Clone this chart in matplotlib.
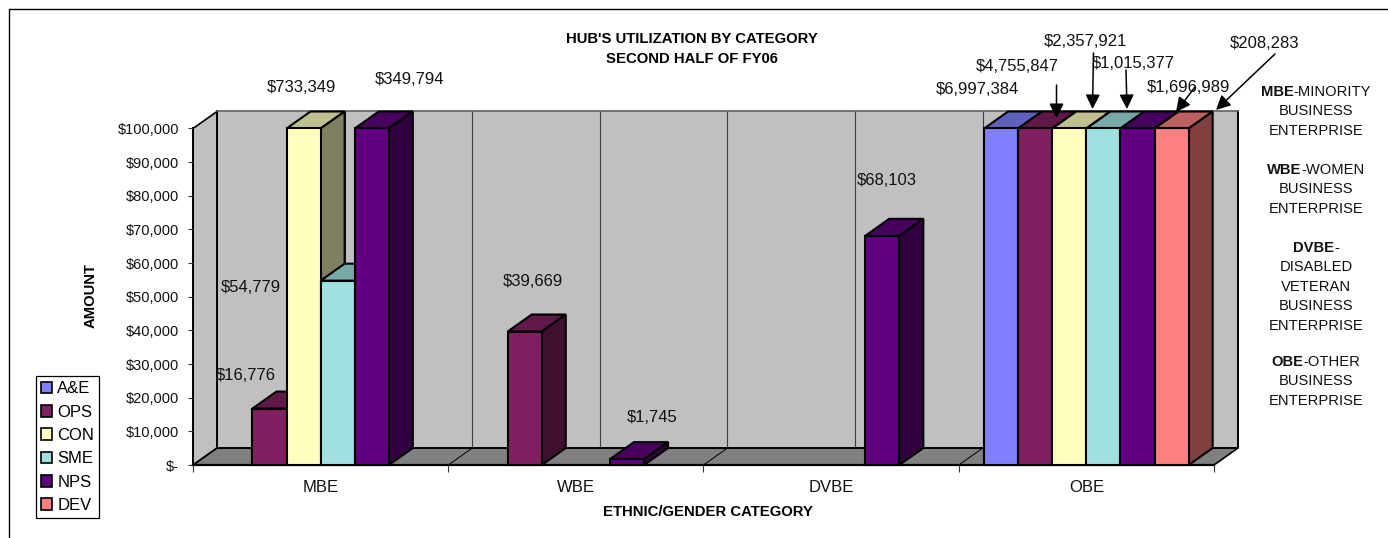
import numpy as np
import matplotlib
matplotlib.use("Agg")
import matplotlib.pyplot as plt
from matplotlib.patches import Polygon, Patch, FancyArrowPatch
from matplotlib.lines import Line2D

plt.rcParams['font.family'] = ['Liberation Sans', 'DejaVu Sans']

W, H = 1388, 538
categories = ['MBE', 'WBE', 'DVBE', 'OBE']
series_names = ['A&E', 'OPS', 'CON', 'SME', 'NPS', 'DEV']
ae = [0, 0, 0, 6997384]
ops = [16776, 39669, 0, 4755847]
con = [733349, 0, 0, 2357921]
sme = [54779, 0, 0, 1015377]
nps = [349794, 1745, 68103, 1696989]
dev = [0, 0, 0, 208283]
series_values = [ae, ops, con, sme, nps, dev]
colors = ['#8080FF', '#802060', '#FFFFC0', '#A0E0E0', '#600080', '#FF8080']
y_ticks = list(range(0, 100001, 10000))
y_tick_labels = ['$-'] + [f'${v:,}' for v in y_ticks[1:]]
y_max = 100000

fig = plt.figure(figsize=(W / 100, H / 100), dpi=100, facecolor='white')


def px(x, y):
    return x / W, 1 - y / H


# Front plane of the 3-D box
L, R, T, B = 193, 1214, 128.5, 465
ax = fig.add_axes([L / W, 1 - B / H, (R - L) / W, (B - T) / H])
ax.set_xlim(0, 4)
ax.set_ylim(0, y_max)
ax.patch.set_visible(False)
for s in ax.spines.values():
    s.set_visible(False)

# Depth of the box in data units
DX = 24 / (R - L) * 4
DY = 17 / (B - T) * y_max
BAR_W = 34.1 / (R - L) * 4


def poly(pts, fc, ec='black', lw=1.4, z=1):
    ax.add_patch(Polygon(pts, closed=True, facecolor=fc, edgecolor=ec, linewidth=lw,
                         zorder=z, clip_on=False, joinstyle='miter'))


# Walls and floor
poly([(0, 0), (DX, DY), (DX, y_max + DY), (0, y_max)], '#C0C0C0', ec='none', lw=0)
poly([(DX, DY), (4 + DX, DY), (4 + DX, y_max + DY), (DX, y_max + DY)], '#C0C0C0', ec='none', lw=0)
poly([(0, 0), (DX, DY), (4 + DX, DY), (4, 0)], '#808080', ec='none', lw=0)
for gx in np.arange(0.5, 4, 0.5):
    ax.plot([gx + DX, gx + DX], [DY, y_max + DY], color='#404040', lw=0.8, zorder=1.1, clip_on=False)
for gx in range(1, 4):
    ax.plot([gx, gx + DX], [0, DY], color='black', lw=0.7, zorder=1.1, clip_on=False)
# Box edges
ax.plot([0, 0], [0, y_max], color='black', lw=1.4, zorder=1.2, clip_on=False)
ax.plot([0, DX], [y_max, y_max + DY], color='black', lw=1.2, zorder=1.2, clip_on=False)
ax.plot([DX, DX], [DY, y_max + DY], color='black', lw=1.4, zorder=1.2, clip_on=False)
ax.plot([0, DX, 4 + DX, 4 + DX], [0, DY, DY, y_max + DY], color='black', lw=1.4, zorder=1.2, clip_on=False)
ax.plot([4, 4 + DX], [0, DY], color='black', lw=1.2, zorder=1.2, clip_on=False)
ax.plot([DX, 4 + DX], [y_max + DY, y_max + DY], color='#606060', lw=1.2, zorder=1.2, clip_on=False)
ax.plot([0, 4], [0, 0], color='black', lw=1.6, zorder=1.2, clip_on=False)

# Bars: left to right so that nearer faces overlap correctly
z = 2.0
for c in range(len(categories)):
    for i, vals in enumerate(series_values):
        v = vals[c]
        if v <= 0:
            continue
        h = min(v, y_max)
        x0 = c + 0.5 + (i - 3) * BAR_W
        rgb = np.array(matplotlib.colors.to_rgb(colors[i]))
        ax.bar(x0, h, width=BAR_W, align='edge', color=colors[i], edgecolor='black',
               linewidth=1.5, zorder=z + 0.1, clip_on=False)
        poly([(x0, h), (x0 + DX, h + DY), (x0 + BAR_W + DX, h + DY), (x0 + BAR_W, h)], rgb * 0.75, lw=1.5, z=z)
        poly([(x0 + BAR_W, 0), (x0 + BAR_W + DX, DY), (x0 + BAR_W + DX, h + DY), (x0 + BAR_W, h)], rgb * 0.5, lw=1.5, z=z)
        z += 0.2

# Axes ticks
ax.set_yticks(y_ticks)
ax.set_yticklabels(y_tick_labels, fontsize=10.5, color='#111111')
ax.tick_params(axis='y', length=3.6, width=0.8, pad=6.4, color='#333333')
ax.set_xticks(range(5))
ax.set_xticklabels([])
ax.tick_params(axis='x', which='major', length=5, width=0.8, color='#333333')
ax.set_xticks(np.arange(len(categories)) + 0.5, minor=True)
ax.set_xticklabels(categories, minor=True, fontsize=12, color='#111111')
ax.tick_params(axis='x', which='minor', length=0, pad=11)

# Titles
fs_title = 10.7
fig.text(*px(692, 39), "HUB'S UTILIZATION BY CATEGORY", ha='center', va='center', fontsize=fs_title, fontweight='bold')
fig.text(*px(692, 59), "SECOND HALF OF FY06", ha='center', va='center', fontsize=fs_title, fontweight='bold')
fig.text(*px(91, 296), "AMOUNT", ha='center', va='center', rotation=90, fontsize=fs_title, fontweight='bold')
fig.text(*px(708, 512), "ETHNIC/GENDER CATEGORY", ha='center', va='center', fontsize=fs_title, fontweight='bold')

# Value labels, (series index, category index) with hand-placed label centres
label_keys = [(1, 0), (2, 0), (3, 0), (4, 0), (1, 1), (4, 1), (4, 2),
              (0, 3), (1, 3), (2, 3), (3, 3), (4, 3), (5, 3)]
label_pos = [(245.5, 376), (301, 88), (250.5, 288), (410, 79), (533, 282), (652, 418), (887, 181),
             (977, 90), (1017, 66), (1085, 42), (1133, 64), (1188, 87), (1265, 43)]
for (si, ci), (lx, ly) in zip(label_keys, label_pos):
    fig.text(*px(lx, ly), f'${series_values[si][ci]:,}', ha='center', va='center',
             fontsize=12, color='#111111', zorder=20)

# Leader arrows
arrows = [((1056.5, 85), (1056.5, 118)), ((1093.5, 53), (1092.5, 109)), ((1126, 70), (1127, 109)),
          ((1195, 87), (1176, 112)), ((1275, 54), (1216, 110))]
for a, b in arrows:
    fig.add_artist(FancyArrowPatch(
        px(*a), px(*b), transform=fig.transFigure, arrowstyle='-|>,head_length=0.58,head_width=0.29',
        mutation_scale=15, color='black', lw=1.1, shrinkA=0, shrinkB=0, zorder=25))

# Side notes (bold abbreviation + regular text, centred together)
notes = [('MBE', '-MINORITY', ['BUSINESS', 'ENTERPRISE'], 92),
         ('WBE', '-WOMEN', ['BUSINESS', 'ENTERPRISE'], 170),
         ('DVBE', '-', ['DISABLED', 'VETERAN', 'BUSINESS', 'ENTERPRISE'], 248),
         ('OBE', '-OTHER', ['BUSINESS', 'ENTERPRISE'], 362)]
renderer = fig.canvas.get_renderer()
cx = 1316
fs_note = 10.6
for bold, rest, others, y0 in notes:
    t1 = fig.text(*px(cx, y0), bold, fontsize=fs_note, fontweight='bold', ha='left', va='center', color='#111111')
    t2 = fig.text(*px(cx, y0), rest, fontsize=fs_note, ha='left', va='center', color='#111111')
    w1 = t1.get_window_extent(renderer).width
    w2 = t2.get_window_extent(renderer).width
    t1.set_position(px(cx - (w1 + w2) / 2, y0))
    t2.set_position(px(cx - (w1 + w2) / 2 + w1, y0))
    for k, s in enumerate(others):
        fig.text(*px(cx, y0 + 19.4 * (k + 1)), s, fontsize=fs_note, ha='center', va='center', color='#111111')

# Legend
handles = [Patch(facecolor=c, edgecolor='black', linewidth=1.2) for c in colors]
leg = fig.legend(handles, series_names, loc='lower left', bbox_to_anchor=px(36, 518),
                 bbox_transform=fig.transFigure, fontsize=12, frameon=True, fancybox=False,
                 edgecolor='black', framealpha=1, borderaxespad=0, borderpad=0.3,
                 handlelength=0.68, handleheight=0.68, handletextpad=0.3, labelspacing=0.5)
leg.get_frame().set_linewidth(0.9)

# Outer frame (top and left edges only)
fig.add_artist(Line2D([9 / W, 9 / W, 1], [0, 1 - 9 / H, 1 - 9 / H], transform=fig.transFigure,
                      color='black', lw=1.0))

fig.savefig('out.png', dpi=100, facecolor='white')
